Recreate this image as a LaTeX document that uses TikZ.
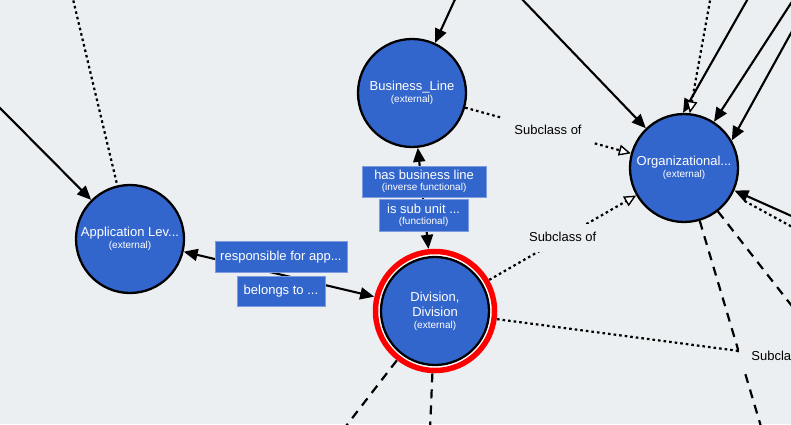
\documentclass[tikz,border=0pt]{standalone}
\usepackage{fontspec}
\setmainfont{Liberation Sans}
\usetikzlibrary{arrows.meta}
\definecolor{bgc}{RGB}{236,239,241}
\definecolor{nblue}{RGB}{51,102,204}
\definecolor{lblborder}{RGB}{125,155,222}
\newcommand\smalltxt[1]{{\fontsize{10pt}{12pt}\selectfont #1}}
\begin{document}
\begin{tikzpicture}[x=1pt,y=-1pt,
  cnode/.style={circle, draw=black, line width=2.3pt, fill=nblue, minimum size=108pt, inner sep=0pt, text=white, align=center, font=\fontsize{13pt}{15pt}\selectfont},
  sub/.style={fill=bgc, font=\fontsize{13pt}{15pt}\selectfont, text=black, inner xsep=12pt, inner ysep=8pt, text height=9.5pt, text depth=2.5pt},
  ebox/.style={fill=nblue, draw=lblborder, line width=0.8pt, text=white, align=center, font=\fontsize{13pt}{15pt}\selectfont, inner sep=0pt},
  solidarrow/.style={line width=2.1pt, -{Triangle[length=14pt,width=12pt]}},
  twoarrow/.style={line width=2.1pt, {Triangle[length=14pt,width=12pt]}-{Triangle[length=14pt,width=12pt]}},
  dotline/.style={line width=2.2pt, dash pattern=on 2.6pt off 3pt},
  dashline/.style={line width=2.2pt, dash pattern=on 9pt off 7pt},
  openarrow/.style={-{Triangle[open, fill=white, length=12pt, width=11pt, line width=1.4pt]}},
]
\useasboundingbox (0,0) rectangle (791,424);
\clip (0,0) rectangle (791,424);
\fill[bgc] (0,0) rectangle (791,424);

% class nodes
\node[cnode] (biz) at (412,93) {Business\_Line\\[-3pt]\smalltxt{(external)}};
\node[cnode] (app) at (130,239) {Application Lev...\\[-3pt]\smalltxt{(external)}};
\node[cnode] (org) at (684,168) {Organizational...\\[-3pt]\smalltxt{(external)}};
\coordinate (divc) at (435,311);
\draw[red, line width=5.5pt, fill=white] (divc) circle (59.5pt);
\node[cnode, outer sep=8.5pt] (div) at (divc) {Division,\\Division\\[-3pt]\smalltxt{(external)}};

% free ends
\coordinate (t1) at (457,-5);
\coordinate (t2) at (518,-5);
\coordinate (t3) at (750,-5);
\coordinate (t4) at (795,-3);
\coordinate (t5) at (796,24);
\coordinate (t6) at (711,-5);
\coordinate (t7) at (796,218);
\coordinate (t8) at (796,229);
\coordinate (b1) at (762,430);
\coordinate (b2) at (795,310);
\coordinate (b3) at (343,430);
\coordinate (b4) at (430,430);
\coordinate (l1) at (72,-5);
\coordinate (l2) at (-5,103);

% connectors
\draw[solidarrow] (t1) -- (biz);
\draw[solidarrow] (t2) -- (org);
\draw[solidarrow] (t3) -- (org.91);
\draw[solidarrow] (t4) -- (org);
\draw[solidarrow] (t5) -- (org.30);
\draw[dotline, openarrow] (t6) -- (org.84);
\draw[solidarrow] (t7) -- (org);
\draw[dotline, shorten >=12pt] (t8) -- (org);
\draw[dashline] (org) -- (b1);
\draw[dashline] (org) -- (b2);
\draw[dashline] (div) -- (b3);
\draw[dashline] (div) -- (b4);
\draw[dotline] (l1) -- (app);
\draw[solidarrow] (l2) -- (app);
\draw[twoarrow] (app) -- (div);
\draw[twoarrow] (biz) -- (div);
\draw[dotline, openarrow] (biz) -- (org);
\draw[dotline, openarrow] (div) -- (org);

% labels
\path (biz) -- (org) node[midway, sub] {Subclass of};
\path (div) -- (org) node[midway, sub] {Subclass of};
\node[sub] (sub3) at (785,357) {Subclass of};
\draw[dotline] (div) -- (sub3);

\path (app) -- (div)
  node[midway, ebox, anchor=south, yshift=1.5pt, xshift=2pt, minimum width=132pt, minimum height=31pt] {responsible for app...}
  node[midway, ebox, anchor=north, yshift=-1.5pt, xshift=2pt, minimum width=88pt, minimum height=30pt] {belongs to ...};
\path (biz) -- (div)
  node[midway, ebox, anchor=south, yshift=1pt, xshift=1pt, minimum width=124pt, minimum height=31pt] {has business line\\[-4pt]\smalltxt{(inverse functional)}}
  node[midway, ebox, anchor=north, yshift=-1pt, xshift=0.5pt, minimum width=89pt, minimum height=32pt] {is sub unit ...\\[-4pt]\smalltxt{(functional)}};
\end{tikzpicture}
\end{document}
